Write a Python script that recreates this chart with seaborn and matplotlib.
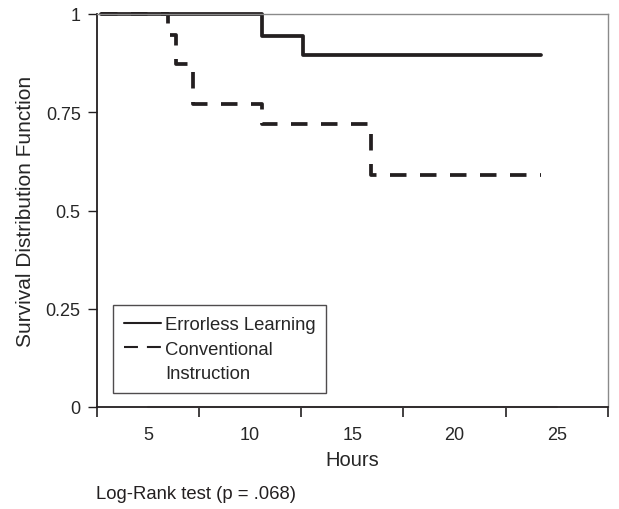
import pandas as pd
import seaborn as sns
import matplotlib.pyplot as plt
from matplotlib.lines import Line2D

# Kaplan-Meier step values
err_hours = [2.7, 10.6, 12.6, 24.2]
err_surv = [1.0, 0.944, 0.895, 0.895]

conv_hours = [2.7, 6.0, 6.4, 7.2, 10.6, 15.9, 24.2]
conv_surv = [1.0, 0.947, 0.872, 0.771, 0.719, 0.59, 0.59]

# faint baseline series drawn along zero
base_hours = [5, 25]
base_surv = [0, 0]

x_ticks = [2.5, 7.5, 12.5, 17.5, 22.5, 27.5]
x_labels = [5, 10, 15, 20, 25]
y_ticks = [0, 0.25, 0.5, 0.75, 1]
y_labels = ['0', '0.25', '0.5', '0.75', '1']


def main():
    sns.set_theme(style="white")
    plt.rcParams['font.family'] = ['Liberation Sans', 'DejaVu Sans']

    err = pd.DataFrame({'Hours': err_hours, 'Survival': err_surv})
    conv = pd.DataFrame({'Hours': conv_hours, 'Survival': conv_surv})
    base = pd.DataFrame({'Hours': base_hours, 'Survival': base_surv})

    fig = plt.figure(figsize=(6.19, 5.10), dpi=100)
    ax = fig.add_axes([96.7 / 619, 1 - 408 / 510, (608 - 96.7) / 619, (408 - 15) / 510])

    sns.lineplot(data=base, x='Hours', y='Survival', ax=ax, color='#c8c8c8',
                 lw=1.5, sort=False, estimator=None, clip_on=False)
    sns.lineplot(data=conv, x='Hours', y='Survival', ax=ax, color='#231f20',
                 lw=2.7, drawstyle='steps-post', sort=False, estimator=None,
                 dashes=False, clip_on=False)
    ax.lines[-1].set_dashes((4.4, 3.6))
    sns.lineplot(data=err, x='Hours', y='Survival', ax=ax, color='#231f20',
                 lw=2.7, drawstyle='steps-post', sort=False, estimator=None,
                 clip_on=False, solid_joinstyle='round', solid_capstyle='round')

    ax.set_xlim(2.5, 27.5)
    ax.set_ylim(0, 1)

    # Excel-style category axis: ticks between labels
    ax.set_xticks(x_ticks)
    ax.set_xticklabels([])
    ax.set_xticks(x_labels, minor=True)
    ax.set_xticklabels([str(v) for v in x_labels], minor=True, fontsize=13)
    ax.tick_params(axis='x', which='major', direction='out', length=7, width=1.2,
                   color='#231f20', bottom=True)
    ax.tick_params(axis='x', which='minor', length=0, pad=14)

    ax.set_yticks(y_ticks)
    ax.set_yticklabels(y_labels, fontsize=13)
    ax.tick_params(axis='y', direction='out', length=6.5, width=1.0,
                   color='#231f20', left=True, pad=5)

    for side in ['left', 'bottom']:
        ax.spines[side].set_color('#231f20')
        ax.spines[side].set_linewidth(1.3)
    for side in ['top', 'right']:
        ax.spines[side].set_color('#8a8a8a')
        ax.spines[side].set_linewidth(1.0)

    ax.set_xlabel('Hours', fontsize=14.5, labelpad=5)
    ax.set_ylabel('Survival Distribution Function', fontsize=15, labelpad=8)

    # second label wraps onto its own row so the dash sits beside "Conventional"
    handles = [
        Line2D([], [], color='#231f20', lw=1.5),
        Line2D([], [], color='#231f20', lw=1.5, dashes=(6.7, 4.3)),
        Line2D([], [], color='none', lw=0),
    ]
    leg = ax.legend(handles, ['Errorless Learning', 'Conventional', 'Instruction'],
                    loc='lower left', bbox_to_anchor=(0.032, 0.035), fontsize=13.3,
                    frameon=True, fancybox=False, handlelength=2.0,
                    borderpad=0.6, labelspacing=0.4, handletextpad=0.2,
                    borderaxespad=0)
    leg.get_frame().set_edgecolor('#231f20')
    leg.get_frame().set_linewidth(1.0)

    fig.text(96 / 619, 1 - 495 / 510, 'Log-Rank test (p = .068)', fontsize=13.3,
             va='center', ha='left', color='#231f20')

    fig.savefig('out.png', dpi=100)


if __name__ == "__main__":
    main()
